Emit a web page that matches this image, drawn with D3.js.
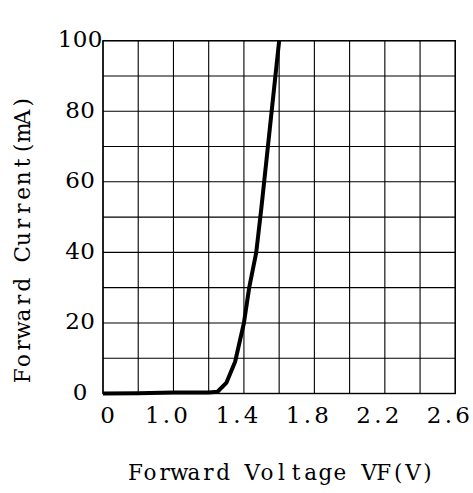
<!DOCTYPE html>
<html>
<head>
<meta charset="utf-8">
<script src="https://cdn.jsdelivr.net/npm/d3@7"></script>
<style>
  html, body { margin: 0; padding: 0; background: #fff; }
  svg { display: block; }
  text { font-family: "DejaVu Serif", "Liberation Serif", serif; fill: #000; }
</style>
</head>
<body>
<svg id="chart" width="473" height="493"></svg>
<script>
// ---- data ----
const voltage = [0, 0.5, 1.0, 1.2, 1.25, 1.3, 1.35, 1.4, 1.43, 1.47, 1.5, 1.6];
const current = [0, 0.1, 0.3, 0.3, 0.5, 3, 9, 20, 30, 40, 53, 100];
const xGridValues = [0, 0.5, 1.0, 1.2, 1.4, 1.6, 1.8, 2.0, 2.2, 2.4, 2.6];
const xTickLabels = [0, 1.0, 1.4, 1.8, 2.2, 2.6];
const yTickLabels = [0, 20, 40, 60, 80, 100];
const yGridValues = d3.range(0, 101, 10);
const xTitle = "Forward Voltage VF(V)";
const yTitle = "Forward Current(mA)";

const svg = d3.select("#chart");
const pL = 103, pR = 455.3, pT = 40.7, pB = 393.5;
const colW = (pR - pL) / 10;

// broken (piecewise) voltage axis: 0..1.0 takes two columns
const x = d3.scaleLinear().domain([0, 1.0, 2.6]).range([pL, pL + 2 * colW, pR]);
const y = d3.scaleLinear().domain([0, 100]).range([pB, pT]);

// monospaced layout: every character centred in its own fixed-width cell
function mono(sel, str, cx, adv) {
  const n = str.length;
  const xs = Array.from(str, (c, i) => (cx + (i - (n - 1) / 2) * adv).toFixed(2));
  sel.attr("x", xs.join(" ")).attr("text-anchor", "middle").text(str);
  return sel;
}

const g = svg.append("g");

// grid
g.selectAll("line.vx").data(xGridValues).enter().append("line")
  .attr("x1", d => x(d)).attr("x2", d => x(d))
  .attr("y1", pT).attr("y2", pB)
  .attr("stroke", "#000").attr("stroke-width", 1.1);
g.selectAll("line.hy").data(yGridValues).enter().append("line")
  .attr("x1", pL).attr("x2", pR)
  .attr("y1", d => y(d)).attr("y2", d => y(d))
  .attr("stroke", "#000").attr("stroke-width", 1.1);

// border
g.append("rect").attr("x", pL).attr("y", pT)
  .attr("width", pR - pL).attr("height", pB - pT)
  .attr("fill", "none").attr("stroke", "#000").attr("stroke-width", 1.4);

// curve
const pts = voltage.map((v, i) => [v, current[i]]);
g.append("path").datum(pts)
  .attr("fill", "none").attr("stroke", "#000").attr("stroke-width", 4)
  .attr("stroke-linejoin", "round")
  .attr("d", d3.line().x(d => x(d[0])).y(d => y(d[1])));

// x tick labels
xTickLabels.forEach(d => {
  const t = g.append("text").attr("y", 423).attr("font-size", 23);
  mono(t, d === 0 ? "0" : d.toFixed(1), x(d) + (d === 0 ? 4.5 : -7), 14.2);
});

// y tick labels
yTickLabels.forEach(d => {
  const t = g.append("text").attr("y", y(d) + 6.5).attr("font-size", 23);
  mono(t, String(d), 80, 15);
});

// axis titles
mono(svg.append("text").attr("y", 480).attr("font-size", 21.5), xTitle, 281.5, 14.6);
const yt = svg.append("g").attr("transform", "translate(30,239) rotate(-90)");
mono(yt.append("text").attr("y", 0).attr("font-size", 21.5), yTitle, 0, 15.2);
</script>
</body>
</html>
